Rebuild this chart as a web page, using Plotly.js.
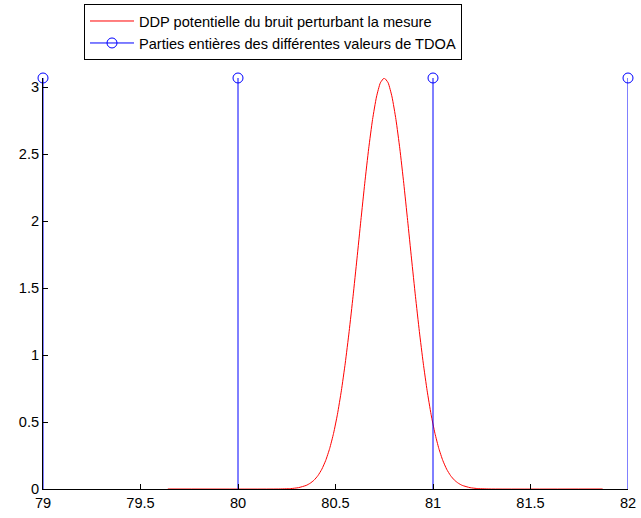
<!DOCTYPE html>
<html>
<head>
<meta charset="utf-8">
<script src="https://cdn.plot.ly/plotly-3.0.1.min.js"></script>
<style>html,body{margin:0;padding:0;background:#fff;}#plot{width:641px;height:518px;}</style>
</head>
<body>
<div id="plot"></div>
<script>
// Density curve of the perturbing noise
const ddpX = [79.64, 80.20, 80.27, 80.31, 80.35, 80.37, 80.39, 80.41, 80.43, 80.45, 80.47, 80.49,
  80.51, 80.53, 80.55, 80.57, 80.59, 80.61, 80.63, 80.65, 80.67, 80.69, 80.71, 80.73, 80.75,
  80.77, 80.79, 80.81, 80.83, 80.85, 80.87, 80.89, 80.91, 80.93, 80.95, 80.97, 80.99, 81.01,
  81.03, 81.05, 81.07, 81.09, 81.11, 81.13, 81.15, 81.19, 81.23, 81.30, 81.87];
const ddpY = [0, 0, 0.003, 0.010, 0.027, 0.043, 0.066, 0.100, 0.148, 0.214, 0.302, 0.415,
  0.558, 0.733, 0.940, 1.177, 1.439, 1.718, 2.004, 2.283, 2.540, 2.759, 2.927, 3.033, 3.069,
  3.033, 2.927, 2.759, 2.540, 2.283, 2.004, 1.718, 1.439, 1.177, 0.940, 0.733, 0.558, 0.415,
  0.302, 0.214, 0.148, 0.100, 0.066, 0.043, 0.027, 0.010, 0.003, 0, 0];
// Integer parts of TDOA values (stems)
const stemX = [79, 80, 81, 82];
const stemY = [3.069, 3.069, 3.069, 3.069];
const legendNames = ["DDP potentielle du bruit perturbant la mesure",
                     "Parties entières des différentes valeurs de TDOA"];
const xTicks = [79, 79.5, 80, 80.5, 81, 81.5, 82];
const yTicks = [0, 0.5, 1, 1.5, 2, 2.5, 3];

const sx = [], sy = [];
stemX.forEach((x, i) => { sx.push(x, x, null); sy.push(0, stemY[i], null); });

const FONT = '"Liberation Sans", Arial, sans-serif';
const traces = [
  {x: ddpX, y: ddpY, type: 'scatter', mode: 'lines', name: legendNames[0],
   line: {color: '#ff0000', width: 1, shape: 'spline', smoothing: 0.5}, cliponaxis: false},
  {x: sx, y: sy, type: 'scatter', mode: 'lines', showlegend: false,
   line: {color: '#0000ff', width: 1}, cliponaxis: false},
  {x: stemX, y: stemY, type: 'scatter', mode: 'markers', showlegend: false,
   marker: {symbol: 'circle-open', size: 10, color: '#0000ff', line: {width: 1, color: '#0000ff'}}, cliponaxis: false},
  {x: [null], y: [null], type: 'scatter', mode: 'lines+markers', name: legendNames[1],
   line: {color: '#0000ff', width: 1},
   marker: {symbol: 'circle-open', size: 10, color: '#0000ff', line: {width: 1, color: '#0000ff'}}}
];

const layout = {
  width: 641, height: 518,
  margin: {l: 43, r: 13, t: 78, b: 29, pad: 0, autoexpand: false},
  paper_bgcolor: '#fff', plot_bgcolor: '#fff',
  font: {family: FONT, size: 14.6, color: '#000'},
  showlegend: true,
  legend: {xref: 'container', yref: 'container', x: 84 / 641, y: 1 - 4 / 518,
           xanchor: 'left', yanchor: 'top',
           bordercolor: '#000', borderwidth: 1, bgcolor: '#fff',
           font: {family: FONT, size: 14.6, color: '#000'}, tracegroupgap: 0, itemwidth: 44},
  xaxis: {range: [79, 82], tickvals: xTicks, ticktext: xTicks.map(String),
          ticks: 'inside', ticklen: 5, tickcolor: '#000', showline: true, linecolor: '#000',
          linewidth: 1, showgrid: false, zeroline: false, fixedrange: true, automargin: false,
          tickfont: {family: FONT, size: 14.6}},
  yaxis: {range: [0, 3.069], tickvals: yTicks, ticktext: yTicks.map(String),
          ticks: 'inside', ticklen: 5, tickcolor: '#000', showline: true, linecolor: '#000',
          linewidth: 1, showgrid: false, zeroline: false, fixedrange: true, automargin: false,
          tickfont: {family: FONT, size: 14.6}}
};
Plotly.newPlot('plot', traces, layout, {staticPlot: true, displayModeBar: false});
</script>
</body>
</html>
